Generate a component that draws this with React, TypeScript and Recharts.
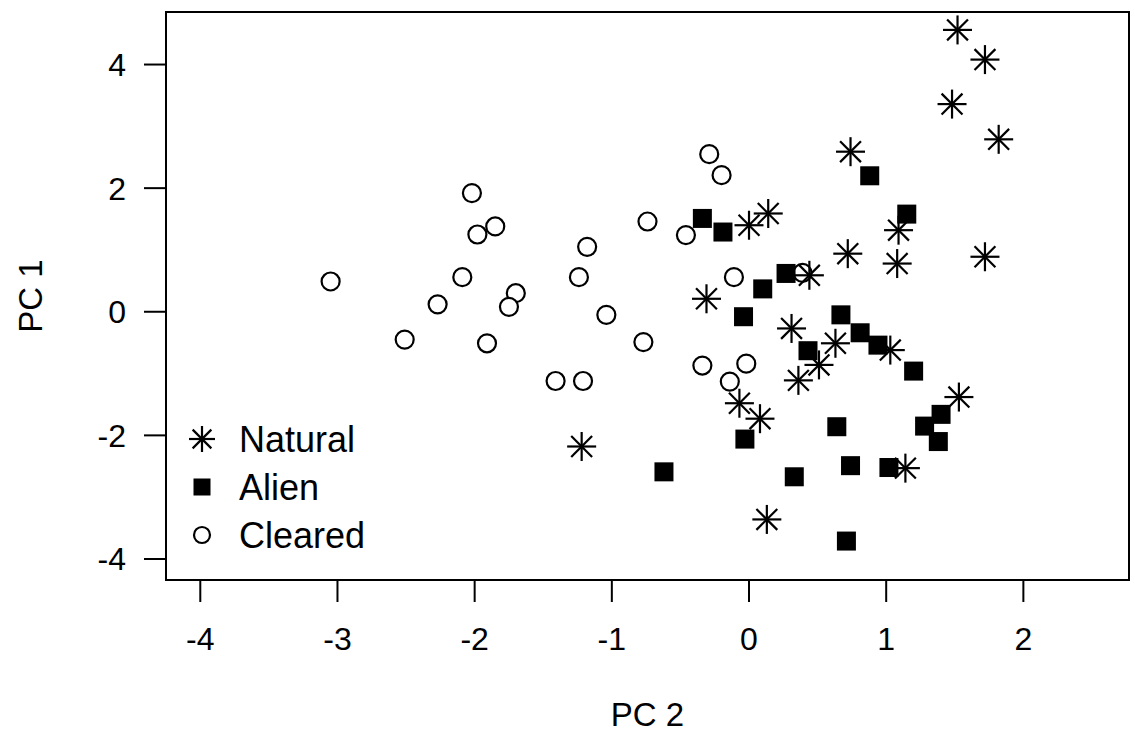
import React from "react";
import { ScatterChart, Scatter, XAxis, YAxis, ReferenceArea } from "recharts";

// PC2 (x) / PC1 (y) scores
const natural = [
  { pc2: 1.52, pc1: 4.56 }, { pc2: 1.72, pc1: 4.08 }, { pc2: 1.48, pc1: 3.36 },
  { pc2: 1.82, pc1: 2.79 }, { pc2: 0.74, pc1: 2.59 }, { pc2: 0.14, pc1: 1.59 },
  { pc2: 0.0, pc1: 1.4 }, { pc2: 1.09, pc1: 1.32 }, { pc2: 0.72, pc1: 0.94 },
  { pc2: 1.08, pc1: 0.78 }, { pc2: 1.72, pc1: 0.89 }, { pc2: 0.44, pc1: 0.59 },
  { pc2: -0.31, pc1: 0.21 }, { pc2: 0.31, pc1: -0.27 }, { pc2: 0.63, pc1: -0.51 },
  { pc2: 1.03, pc1: -0.62 }, { pc2: 0.51, pc1: -0.86 }, { pc2: 0.36, pc1: -1.11 },
  { pc2: -0.07, pc1: -1.48 }, { pc2: 0.08, pc1: -1.73 }, { pc2: 1.53, pc1: -1.38 },
  { pc2: 1.14, pc1: -2.53 }, { pc2: 0.13, pc1: -3.36 }, { pc2: -1.22, pc1: -2.18 },
];

const alien = [
  { pc2: 0.88, pc1: 2.2 }, { pc2: 1.15, pc1: 1.58 }, { pc2: -0.34, pc1: 1.51 },
  { pc2: -0.19, pc1: 1.29 }, { pc2: 0.27, pc1: 0.62 }, { pc2: 0.1, pc1: 0.37 },
  { pc2: -0.04, pc1: -0.08 }, { pc2: 0.67, pc1: -0.05 }, { pc2: 0.81, pc1: -0.34 },
  { pc2: 0.94, pc1: -0.54 }, { pc2: 0.43, pc1: -0.63 }, { pc2: 1.2, pc1: -0.96 },
  { pc2: 1.4, pc1: -1.66 }, { pc2: 1.28, pc1: -1.85 }, { pc2: 1.38, pc1: -2.1 },
  { pc2: 0.64, pc1: -1.86 }, { pc2: -0.03, pc1: -2.06 }, { pc2: -0.62, pc1: -2.59 },
  { pc2: 0.33, pc1: -2.67 }, { pc2: 0.74, pc1: -2.49 }, { pc2: 1.02, pc1: -2.52 },
  { pc2: 0.71, pc1: -3.71 },
];

const cleared = [
  { pc2: -2.02, pc1: 1.92 }, { pc2: -1.85, pc1: 1.38 }, { pc2: -1.98, pc1: 1.25 },
  { pc2: -3.05, pc1: 0.49 }, { pc2: -2.09, pc1: 0.56 }, { pc2: -2.27, pc1: 0.12 },
  { pc2: -1.7, pc1: 0.3 }, { pc2: -1.75, pc1: 0.08 }, { pc2: -1.18, pc1: 1.05 },
  { pc2: -1.24, pc1: 0.56 }, { pc2: -1.04, pc1: -0.05 }, { pc2: -0.74, pc1: 1.46 },
  { pc2: -2.51, pc1: -0.45 }, { pc2: -1.91, pc1: -0.51 }, { pc2: -1.41, pc1: -1.12 },
  { pc2: -1.21, pc1: -1.12 }, { pc2: -0.77, pc1: -0.49 }, { pc2: -0.29, pc1: 2.55 },
  { pc2: -0.2, pc1: 2.21 }, { pc2: -0.46, pc1: 1.24 }, { pc2: -0.11, pc1: 0.56 },
  { pc2: 0.39, pc1: 0.63 }, { pc2: -0.34, pc1: -0.87 }, { pc2: -0.02, pc1: -0.84 },
  { pc2: -0.14, pc1: -1.13 },
];

const xTicks = [-4, -3, -2, -1, 0, 1, 2];
const yTicks = [-4, -2, 0, 2, 4];
const xDomain = [-4.25, 2.77];
const yDomain = [-4.34, 4.85];

const FONT = "'Liberation Sans', Arial, sans-serif";

const Asterisk = ({ cx, cy, r = 14.5 }: { cx: number; cy: number; r?: number }) => {
  const d = r * 0.72;
  return (
    <g stroke="#000" strokeWidth={2.2}>
      <line x1={cx - r} y1={cy} x2={cx + r} y2={cy} />
      <line x1={cx} y1={cy - r} x2={cx} y2={cy + r} />
      <line x1={cx - d} y1={cy - d} x2={cx + d} y2={cy + d} />
      <line x1={cx - d} y1={cy + d} x2={cx + d} y2={cy - d} />
    </g>
  );
};

const Square = ({ cx, cy, s = 19 }: { cx: number; cy: number; s?: number }) => (
  <rect x={cx - s / 2} y={cy - s / 2} width={s} height={s} fill="#000" />
);

const Ring = ({ cx, cy, r = 9 }: { cx: number; cy: number; r?: number }) => (
  <circle cx={cx} cy={cy} r={r} fill="#fff" stroke="#000" strokeWidth={2.2} />
);

const legendItems = [
  { name: "Natural", sym: (y: number) => <Asterisk cx={32} cy={y} r={13} /> },
  { name: "Alien", sym: (y: number) => <Square cx={32} cy={y} s={17} /> },
  { name: "Cleared", sym: (y: number) => <Ring cx={32} cy={y} r={8} /> },
];

export default function App() {
  return (
    <div style={{ position: "absolute", left: 0, top: 0, width: 1135, height: 732, background: "#fff", fontFamily: FONT }}>
      <ScatterChart width={1135} height={732} margin={{ top: 12, right: 6, bottom: 0, left: 0 }}>
        <XAxis
          type="number"
          dataKey="pc2"
          domain={xDomain}
          ticks={xTicks}
          allowDataOverflow
          height={152}
          axisLine={false}
          tickLine={{ stroke: "#000", strokeWidth: 2 }}
          tickSize={22}
          tickMargin={25}
          tick={{ fill: "#000", fontSize: 32, fontFamily: FONT }}
          label={({ viewBox }: any) => (
            <text x={viewBox.x + viewBox.width / 2} y={viewBox.y + 146} textAnchor="middle" fill="#000" fontSize={33} fontFamily={FONT}>
              PC 2
            </text>
          )}
        />
        <YAxis
          type="number"
          dataKey="pc1"
          domain={yDomain}
          ticks={yTicks}
          allowDataOverflow
          width={166}
          axisLine={false}
          tickLine={{ stroke: "#000", strokeWidth: 2 }}
          tickSize={22}
          tickMargin={18}
          tick={{ fill: "#000", fontSize: 32, fontFamily: FONT }}
          label={({ viewBox }: any) => {
            const x = viewBox.x + 42;
            const y = viewBox.y + viewBox.height / 2;
            return (
              <text x={x} y={y} transform={`rotate(-90, ${x}, ${y})`} textAnchor="middle" fill="#000" fontSize={33} fontFamily={FONT}>
                PC 1
              </text>
            );
          }}
        />
        <ReferenceArea x1={xDomain[0]} x2={xDomain[1]} y1={yDomain[0]} y2={yDomain[1]} fill="none" stroke="#000" strokeWidth={2} fillOpacity={0} />
        <Scatter data={cleared} isAnimationActive={false} shape={(p: any) => <Ring cx={p.cx} cy={p.cy} />} />
        <Scatter data={natural} isAnimationActive={false} shape={(p: any) => <Asterisk cx={p.cx} cy={p.cy} />} />
        <Scatter data={alien} isAnimationActive={false} shape={(p: any) => <Square cx={p.cx} cy={p.cy} />} />
      </ScatterChart>
      <svg style={{ position: "absolute", left: 170, top: 410 }} width={230} height={150}>
        {legendItems.map((item, i) => {
          const cy = 29 + i * 48;
          return (
            <g key={item.name}>
              {item.sym(cy)}
              <text x={69} y={cy + 13} fontSize={36} fontFamily={FONT} fill="#000">
                {item.name}
              </text>
            </g>
          );
        })}
      </svg>
    </div>
  );
}
